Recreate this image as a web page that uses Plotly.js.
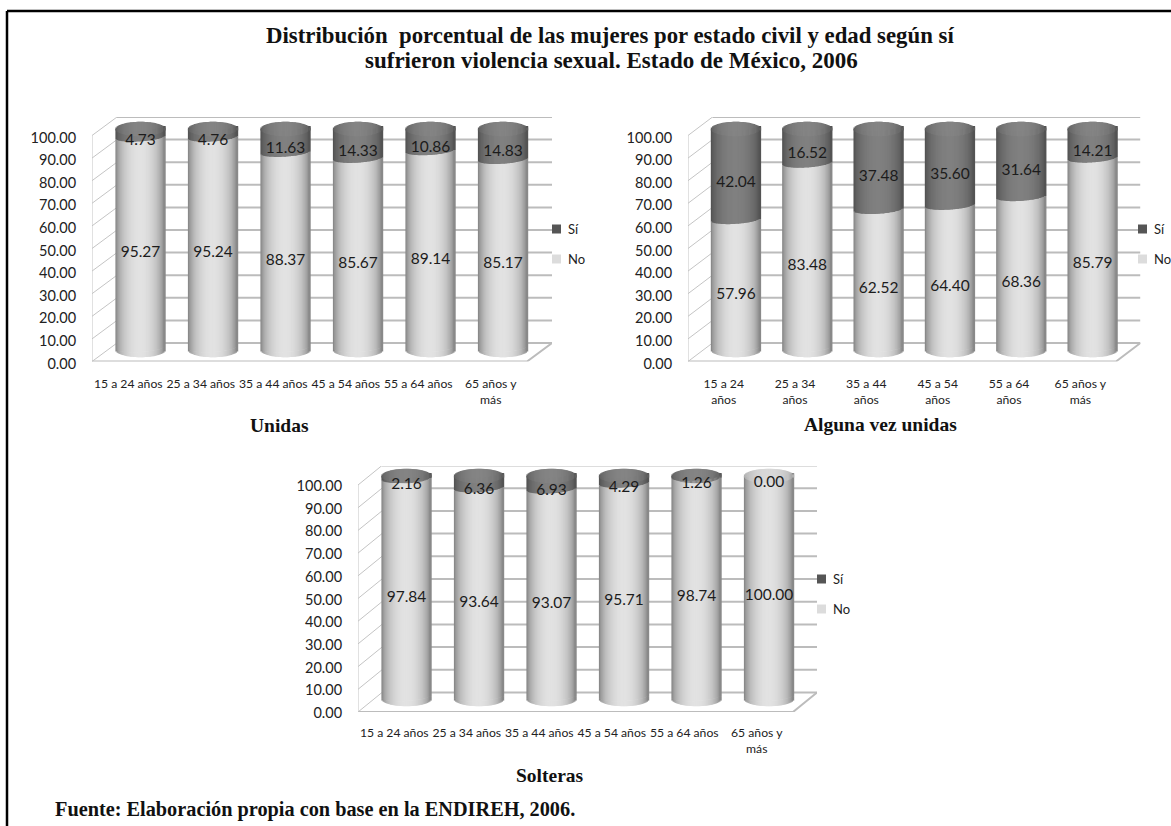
<!DOCTYPE html>
<html lang="es">
<head>
<meta charset="utf-8">
<title>Violencia sexual por estado civil y edad</title>
<script src="https://cdn.plot.ly/plotly-3.0.1.min.js"></script>
<style>html,body{margin:0;padding:0;background:#fff}</style>
</head>
<body>
<div id="chart" style="width:1171px;height:826px"></div>
<script>
// Percentages by age group
const gruposLargos = ['15 a 24 años', '25 a 34 años', '35 a 44 años', '45 a 54 años', '55 a 64 años', '65 años y<br>más'];
const gruposCortos = ['15 a 24<br>años', '25 a 34<br>años', '35 a 44<br>años', '45 a 54<br>años', '55 a 64<br>años', '65 años y<br>más'];

const unidasNo = [95.27, 95.24, 88.37, 85.67, 89.14, 85.17];
const unidasSi = [4.73, 4.76, 11.63, 14.33, 10.86, 14.83];
const algunaNo = [57.96, 83.48, 62.52, 64.40, 68.36, 85.79];
const algunaSi = [42.04, 16.52, 37.48, 35.60, 31.64, 14.21];
const solterasNo = [97.84, 93.64, 93.07, 95.71, 98.74, 100.00];
const solterasSi = [2.16, 6.36, 6.93, 4.29, 1.26, 0.00];

const marcasEje = [0, 10, 20, 30, 40, 50, 60, 70, 80, 90, 100];

const W = 1171, H = 826;
const paperX = px => px / W;
const paperY = py => 1 - py / H;

// Pixel geometry of the three pseudo-3D panels
const panels = [
  {no: unidasNo, si: unidasSi, cats: gruposLargos, wall: 92, slot: 72.5, depth: 25, y0: 361.5, top: 117, ppu: 2.26, depthY: 18.5,
   base: 350, cap: 129, halfW: 24.5, legendX: 552, legendY: [229, 259], labelShift: 2},
  {no: algunaNo, si: algunaSi, cats: gruposCortos, wall: 688, slot: 71.33, depth: 24.5, y0: 361.5, top: 117, ppu: 2.26, depthY: 18.5,
   base: 350, cap: 129, halfW: 24.5, legendX: 1138, legendY: [229, 259], labelShift: 2},
  {no: solterasNo, si: solterasSi, cats: gruposLargos, wall: 358, slot: 72.5, depth: 24, y0: 712, top: 466, ppu: 2.27, depthY: 19.5,
   base: 699, cap: 476, halfW: 24.5, legendX: 817, legendY: [579, 609], labelShift: 1}
];

const STRIPS = 40;
const ELLIPSE_PX = 7.2;
const mix = (a, b, t) => Math.round(a + (b - a) * t);
const grey = v => `rgb(${v},${v},${v})`;
// Cross-section lighting of a cylinder: dark at the rim, bright at the middle
const lit = (u, rim, mid) => grey(mix(rim, mid, Math.pow(1 - u * u, 0.6)));

const traces = [];
const layout = {
  width: W, height: H, margin: {l: 0, r: 0, t: 0, b: 0},
  paper_bgcolor: '#fff', plot_bgcolor: 'rgba(0,0,0,0)',
  barmode: 'overlay', showlegend: false, hovermode: false,
  font: {family: 'Lato, "Noto Sans", sans-serif', color: '#222'},
  shapes: [], annotations: []
};

panels.forEach((p, idx) => {
  const n = idx === 0 ? '' : String(idx + 1);
  const xName = 'x' + n, yName = 'y' + n;
  const cylName = 'y' + (idx + 4);

  const xRight = 5.5 + p.depth / p.slot;
  const xBackL = -0.5 + p.depth / p.slot;
  const dv = p.depthY / p.ppu;
  const xDomain = [paperX(p.wall), paperX(p.wall + p.slot * 6 + p.depth)];
  const yDomain = [paperY(p.y0), paperY(p.top)];

  layout['xaxis' + n] = {
    domain: xDomain, range: [-0.5, xRight], anchor: yName,
    tickmode: 'array', tickvals: [0, 1, 2, 3, 4, 5], ticktext: p.cats,
    ticks: 'outside', ticklen: idx === 2 ? 9 : 10.5, tickcolor: 'rgba(0,0,0,0)', showgrid: false, zeroline: false, showline: false,
    tickangle: 0, tickfont: {size: 12.2, color: '#222'}
  };
  layout['yaxis' + n] = {
    domain: yDomain, range: [0, (p.y0 - p.top) / p.ppu], anchor: xName,
    tickmode: 'array', tickvals: marcasEje, tickformat: '.2f',
    ticks: 'outside', ticklen: 12, tickcolor: 'rgba(0,0,0,0)', showgrid: false, zeroline: false, showline: false,
    ticklabelshift: p.labelShift,
    tickfont: {size: 14.5, color: '#222'}
  };

  // Second value axis for the cylinders, whose plane sits between the front and back walls
  const cylPerUnit = (p.base - p.cap) / 100;
  layout['yaxis' + (idx + 4)] = {
    overlaying: yName, anchor: xName, visible: false, fixedrange: true,
    range: [-(p.y0 - p.base) / cylPerUnit, (p.base - p.top) / cylPerUnit]
  };
  const k = ELLIPSE_PX / cylPerUnit;
  const perPx = 1 / cylPerUnit;

  // Back wall gridlines, side wall and floor
  const hx = [], hy = [], dx = [], dy = [];
  marcasEje.forEach(v => {
    hx.push(xBackL, xRight, null); hy.push(v + dv, v + dv, null);
    dx.push(-0.5, xBackL, null); dy.push(v, v + dv, null);
  });
  hx.push(-0.5, 5.5, xRight, null); hy.push(0, 0, dv, null);
  dx.push(-0.5, -0.5, null); dy.push(0, 100, null);
  traces.push({type: 'scatter', mode: 'lines', xaxis: xName, yaxis: yName, x: hx, y: hy,
    line: {color: '#bcbcbc', width: 2}, cliponaxis: false, connectgaps: false, hoverinfo: 'skip'});
  traces.push({type: 'scatter', mode: 'lines', xaxis: xName, yaxis: yName, x: dx, y: dy,
    line: {color: '#c4c4c4', width: 1}, cliponaxis: false, connectgaps: false, hoverinfo: 'skip'});

  // Each cylinder is a fan of narrow bars so the lighting and elliptical ends can be drawn
  const centre = 12.3 / p.slot;
  const hw = p.halfW / p.slot;
  const stripW = 2 * hw / STRIPS + 1.3 / p.slot;
  const cats = [0, 1, 2, 3, 4, 5];
  for (let s = 0; s < STRIPS; s++) {
    const u = -1 + (2 * s + 1) / STRIPS;
    const c = Math.sqrt(1 - u * u);
    const x = cats.map(i => i + centre + u * hw);
    // Joint between the two segments: a shallow curve, slightly tilted up to the right
    const joint = (2.5 + 1.5 * u - 4.5 * c) * perPx;
    const common = {type: 'bar', orientation: 'v', xaxis: xName, yaxis: cylName, x, width: stripW, hoverinfo: 'skip'};
    // Rounded foot below the front plane of the lower segment
    traces.push({...common, name: 'base', y: cats.map(() => k * c + joint), base: cats.map(() => -k * c),
      marker: {color: lit(u, 120, 226), line: {width: 0}}});
    traces.push({...common, name: 'No', y: p.no, base: cats.map(() => joint),
      marker: {color: lit(u, 120, 226), line: {width: 0}}});
    traces.push({...common, name: 'Sí', y: p.si, base: p.no.map(v => v + joint),
      marker: {color: lit(u, 74, 128), line: {width: 0}}});
    // Top end of the cylinder, dark where the upper segment exists
    traces.push({...common, name: 'tapa', y: cats.map(() => 2 * k * c), base: cats.map(() => 100 - k * c),
      marker: {color: p.si.map(v => v > 0 ? lit(u, 88, 132) : lit(u, 168, 216)), line: {width: 0}}});
  }

  // Value labels placed on the visible front of each segment
  const labelX = cats.map(i => i + centre);
  traces.push({type: 'scatter', mode: 'text', xaxis: xName, yaxis: cylName, x: labelX,
    y: p.no.map(v => v / 2 - k - 1.5 * perPx), text: p.no.map(v => v.toFixed(2)), textposition: 'middle center',
    textfont: {size: 15.5, color: '#1c1c1c'}, cliponaxis: false, hoverinfo: 'skip'});
  traces.push({type: 'scatter', mode: 'text', xaxis: xName, yaxis: cylName, x: labelX,
    y: p.si.map((v, i) => p.no[i] + v / 2 - k), text: p.si.map(v => v.toFixed(2)), textposition: 'middle center',
    textfont: {size: 15.5, color: '#1c1c1c'}, cliponaxis: false, hoverinfo: 'skip'});

  // Series key
  [['Sí', '#555555'], ['No', '#dcdcdc']].forEach(([label, colour], j) => {
    const cy = p.legendY[j];
    layout.shapes.push({type: 'rect', xref: 'paper', yref: 'paper',
      x0: paperX(p.legendX), x1: paperX(p.legendX + 9), y0: paperY(cy + 4.5), y1: paperY(cy - 4.5),
      fillcolor: colour, line: {width: 0}, layer: 'above'});
    layout.annotations.push({xref: 'paper', yref: 'paper', x: paperX(p.legendX + 14), y: paperY(cy),
      xanchor: 'left', yanchor: 'middle', text: label, showarrow: false, font: {size: 13, color: '#222'}});
  });
});

// Sheet border: top and left rules only
layout.shapes.push({type: 'line', xref: 'paper', yref: 'paper', x0: paperX(7), x1: 1, y0: paperY(11), y1: paperY(11), line: {color: '#000', width: 2.5}});
layout.shapes.push({type: 'line', xref: 'paper', yref: 'paper', x0: paperX(7), x1: paperX(7), y0: paperY(11), y1: 0, line: {color: '#000', width: 2.5}});

// Titles and source line
const serif = 'Liberation Serif, serif';
const texto = (text, px, py, size, anchor) => layout.annotations.push({
  xref: 'paper', yref: 'paper', x: paperX(px), y: paperY(py), xanchor: anchor || 'center', yanchor: 'middle',
  text: '<b>' + text + '</b>', showarrow: false, font: {family: serif, size, color: '#111'}
});
texto('Distribución  porcentual de las mujeres por estado civil y edad según sí', 610, 35, 22.8);
texto('sufrieron violencia sexual. Estado de México, 2006', 611, 60.5, 23);
texto('Unidas', 279, 425, 19.5);
texto('Alguna vez unidas', 880, 424, 19.5);
texto('Solteras', 550, 775, 19.5);
texto('Fuente: Elaboración propia con base en la ENDIREH, 2006.', 53, 809, 20.3, 'left');

Plotly.newPlot('chart', traces, layout, {staticPlot: true, displayModeBar: false});
</script>
</body>
</html>
